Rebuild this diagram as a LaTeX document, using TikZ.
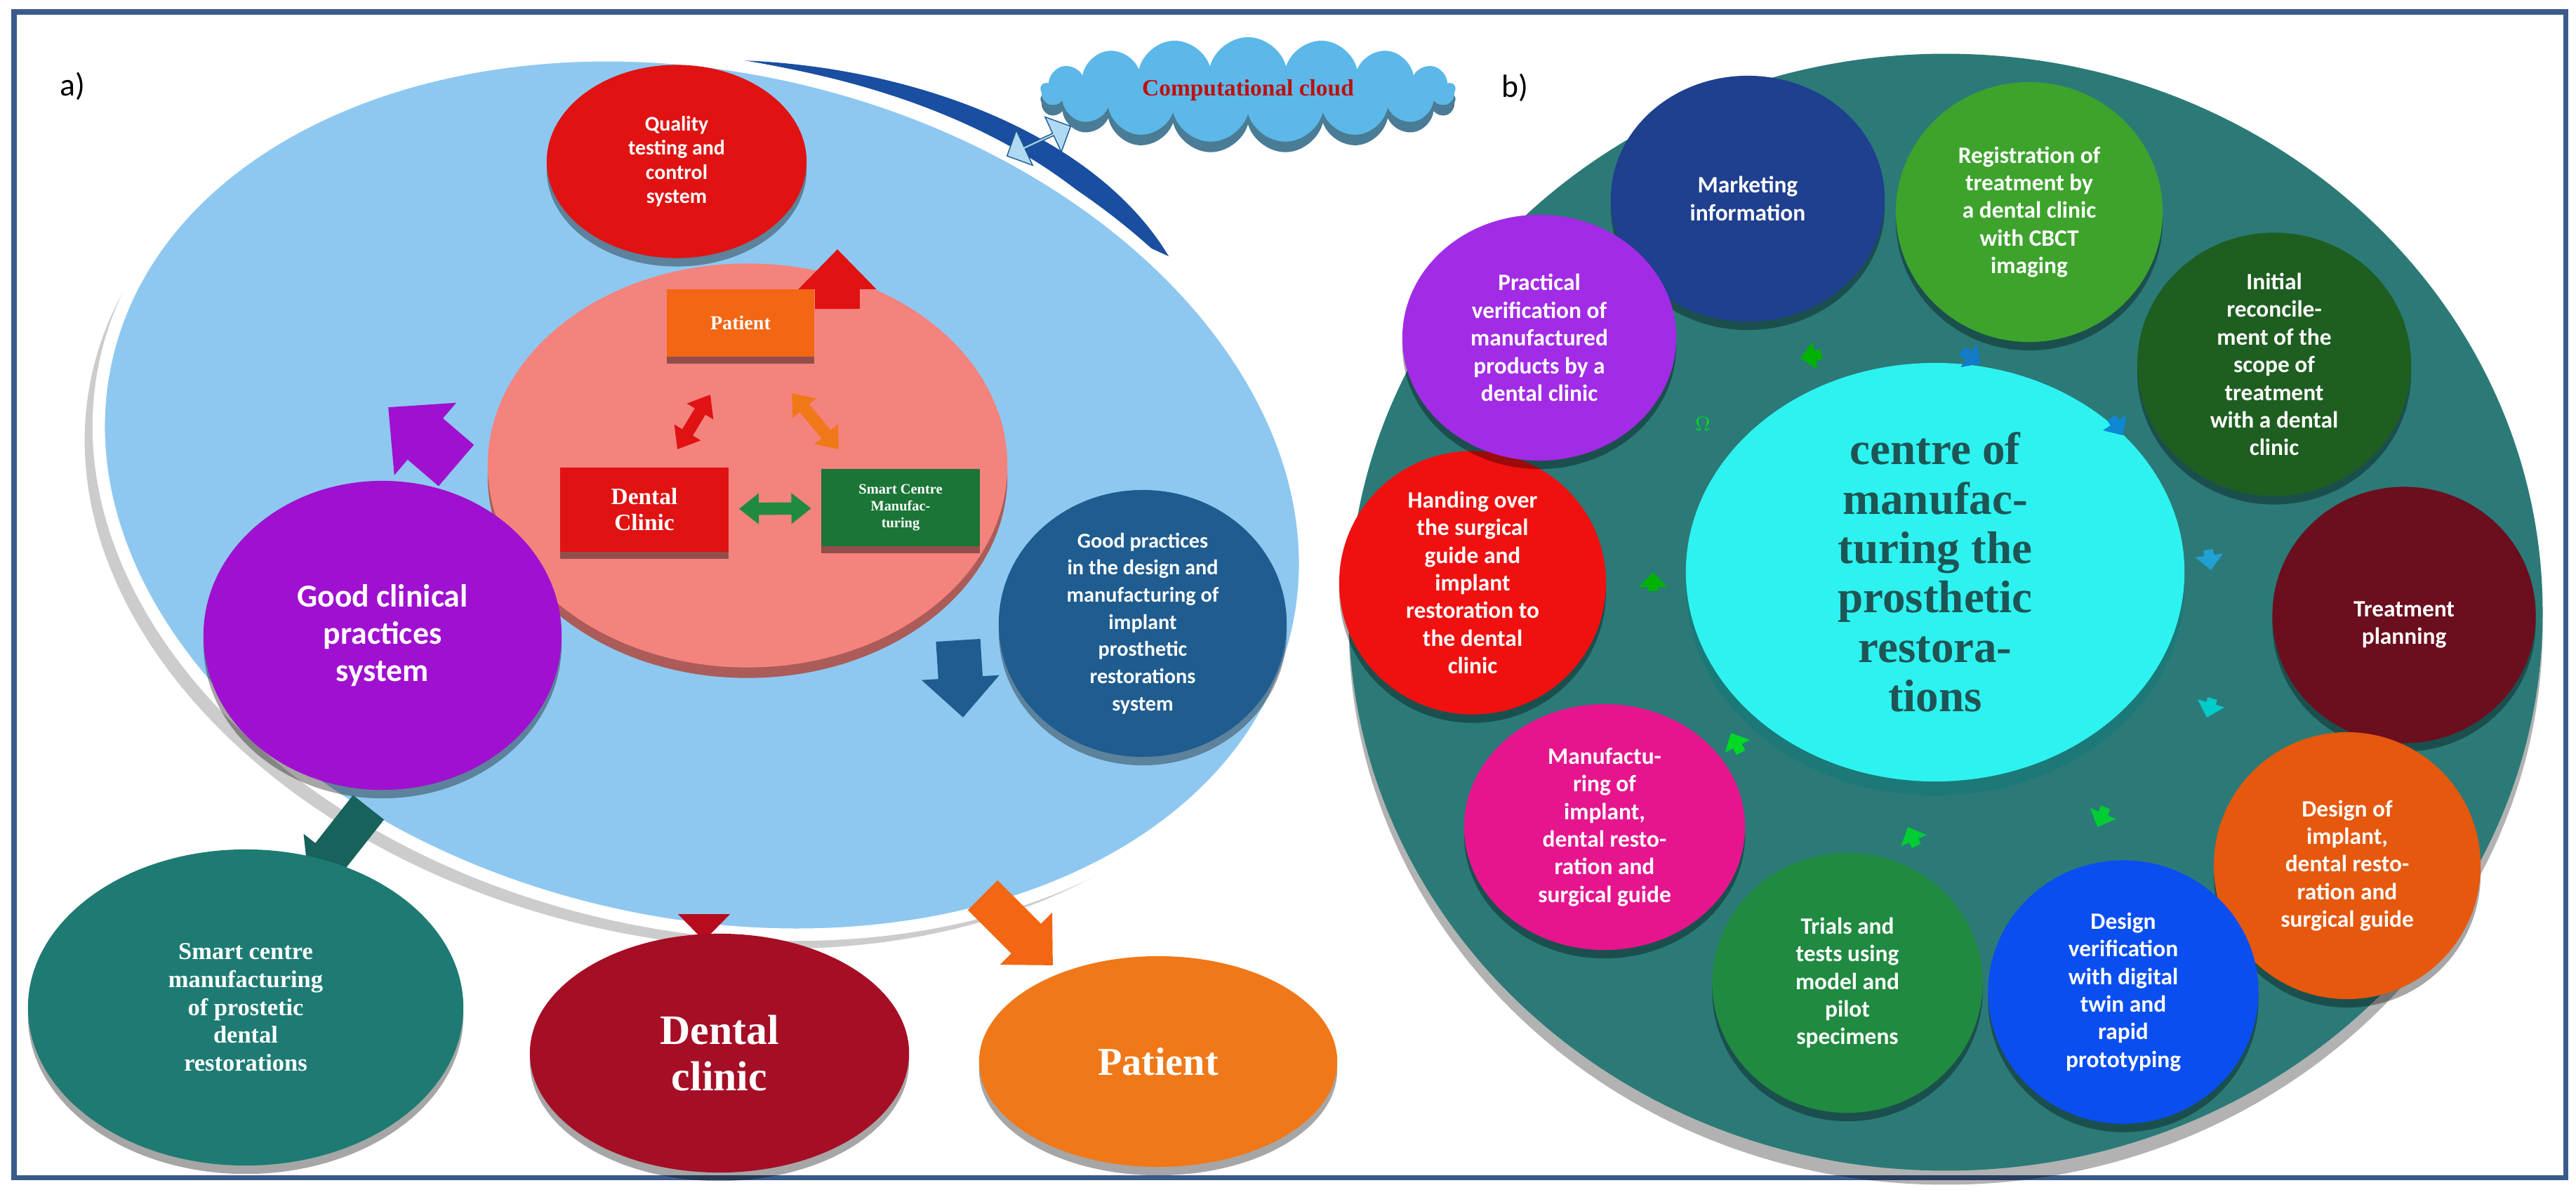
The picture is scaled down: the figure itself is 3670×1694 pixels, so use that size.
\documentclass[tikz,border=0pt]{standalone}
\usepackage{fontspec}
\setmainfont{Carlito}
\newfontfamily\serifb{Liberation Serif}
\usetikzlibrary{shapes.geometric,shapes.symbols,shapes.arrows,arrows.meta,shadows,calc}
\definecolor{lblue}{HTML}{8EC8F0}
\definecolor{pinkc}{HTML}{F4837D}
\definecolor{qred}{HTML}{E01212}
\definecolor{purp}{HTML}{A010D0}
\definecolor{dblue}{HTML}{1F5C8F}
\definecolor{tealA}{HTML}{1E7B73}
\definecolor{dred}{HTML}{A50E25}
\definecolor{orng}{HTML}{F07818}
\definecolor{bigteal}{HTML}{2B7A78}
\definecolor{cyanc}{HTML}{2EF2F0}
\definecolor{mkt}{HTML}{1F3F8F}
\definecolor{reg}{HTML}{3DA32C}
\definecolor{ini}{HTML}{1E5E20}
\definecolor{trt}{HTML}{6B0E1E}
\definecolor{dsg}{HTML}{E5580E}
\definecolor{dver}{HTML}{0A4EF0}
\definecolor{trl}{HTML}{1F8A40}
\definecolor{mfg}{HTML}{E6158E}
\definecolor{hnd}{HTML}{F01010}
\definecolor{prc}{HTML}{A22BE6}
\definecolor{cloudc}{HTML}{5BB8E8}
\definecolor{frame}{HTML}{3A5A8A}
\tikzset{
  disk/.style={ellipse, draw=none, text=white, align=center, inner sep=0pt,
     general shadow={shadow yshift=-1.2mm, fill=black, opacity=0.35}},
  ctxt/.style={font=\fontsize{9.5}{11.2}\selectfont\bfseries},
  box/.style={rectangle, draw=none, text=white, align=center, inner sep=1pt,
     general shadow={shadow yshift=-1mm, fill=black, opacity=0.4}},
  fat/.style={line width=#1, -{Triangle[length=0.9*#1,width=1.7*#1]}},
  dfat/.style={line width=#1, {Triangle[length=1.6*#1,width=2.4*#1]}-{Triangle[length=1.6*#1,width=2.4*#1]}},
  tiny/.style={line width=4pt, -{Triangle[length=6pt,width=11pt]}}
}
\begin{document}
\begin{tikzpicture}[x=0.01cm,y=-0.01cm]
\useasboundingbox (0,0) rectangle (3670,1694);
\fill[white] (0,0) rectangle (3670,1694);
\draw[frame, line width=2pt] (20,17) rectangle (3655,1677);
\node[font=\fontsize{13}{15}\selectfont] (la) at (103,123) {a)};
\node[font=\fontsize{13}{15}\selectfont] (lb) at (2158,125) {b)};

% ---------- panel a ----------
\fill[dblue!85!blue] (1056,86) .. controls (1300,95) and (1560,190) .. (1665,365)
   -- (1610,340) .. controls (1480,200) and (1280,120) .. cycle;
\node[ellipse, fill=lblue, draw=white, line width=5pt, minimum width=17.4cm, minimum height=12.2cm,
  rotate=-13, general shadow={shadow xshift=-2mm, shadow yshift=-2mm, fill=black, opacity=0.2}] (big) at (1000,705) {};
\node[double arrow, fill=lblue!70!white, draw=dblue, minimum height=1cm, minimum width=0.55cm,
  double arrow head extend=0.1cm, rotate=25, inner sep=0pt] (cla) at (1480,201) {};
\node[cloud, cloud puffs=17, aspect=5, fill=cloudc, minimum width=5.9cm, minimum height=1.5cm, inner sep=0pt,
  general shadow={shadow yshift=-1.5mm, fill=cloudc!60!black, opacity=0.9},
  font=\serifb\fontsize{9.5}{11}\selectfont\bfseries, text=qred!85!black] (cloud) at (1778,128) {Computational cloud};

\node[disk, fill=qred, minimum width=3.7cm, minimum height=2.75cm, font=\fontsize{8.5}{9.8}\selectfont\bfseries] (qual) at (964,230)
  {Quality\\testing and\\control\\system};
\node[ellipse, fill=pinkc, minimum width=7.4cm, minimum height=5.75cm,
  general shadow={shadow yshift=-1.5mm, fill=pinkc!70!black}] (pink) at (1065,663) {};
\node[box, fill=orng!85!red, minimum width=2.1cm, minimum height=0.95cm, font=\serifb\fontsize{8}{9}\selectfont\bfseries] (pbox) at (1055,460) {Patient};
\node[box, fill=qred, minimum width=2.4cm, minimum height=1.2cm, font=\serifb\fontsize{9.5}{10.5}\selectfont\bfseries] (dbox) at (918,726) {Dental\\Clinic};
\node[box, fill=trl!85!black, minimum width=2.25cm, minimum height=1.1cm, font=\serifb\fontsize{5.8}{6.8}\selectfont\bfseries] (sbox) at (1283,723) {Smart Centre\\Manufac-\\turing};
\coordinate (t1) at (1012,562); \coordinate (t2) at (965,640);
\draw[dfat=5pt, qred] (t1) -- (t2);
\coordinate (t3) at (1128,560); \coordinate (t4) at (1195,640);
\draw[dfat=5pt, orng] (t3) -- (t4);
\draw[dfat=5pt, trl, shorten <=4pt, shorten >=4pt] (dbox) -- (sbox);

\node[disk, fill=purp, minimum width=5.1cm, minimum height=4.4cm, font=\fontsize{13}{15}\selectfont\bfseries] (gcp) at (545,905)
  {Good clinical\\practices\\system};
\node[disk, fill=dblue, minimum width=4.1cm, minimum height=3.8cm, font=\fontsize{8.6}{11}\selectfont\bfseries] (gpd) at (1628,888)
  {Good practices\\in the design and\\manufacturing of\\implant\\prosthetic\\restorations\\system};

\coordinate (r1) at (1193,440); \coordinate (r2) at (1193,355);
\draw[fat=18pt, qred] (r1) -- (r2);
\coordinate (p1) at (650,663); \coordinate (p2) at (553,580);
\draw[fat=22pt, purp] (p1) -- (p2);
\coordinate (b1) at (1365,912); \coordinate (b2) at (1372,1022);
\draw[fat=18pt, dblue] (b1) -- (b2);
\coordinate (g1) at (525,1150); \coordinate (g2) at (440,1258);
\draw[fat=16pt, tealA!80!black] (g1) -- (g2);
\coordinate (d1) at (1003,1312); \coordinate (d2) at (1003,1340);
\draw[fat=12pt, dred!80!red] (d1) -- (d2);
\coordinate (o1) at (1400,1275); \coordinate (o2) at (1500,1375);
\draw[fat=17pt, orng!85!red] (o1) -- (o2);

\node[disk, fill=tealA, minimum width=6.2cm, minimum height=4.5cm, font=\serifb\fontsize{9.8}{11.3}\selectfont\bfseries] (scm) at (350,1435)
  {Smart centre\\manufacturing\\of prostetic\\dental\\restorations};
\node[disk, fill=dred, minimum width=5.4cm, minimum height=3.4cm, font=\serifb\fontsize{17}{19}\selectfont\bfseries] (dcl) at (1025,1500)
  {Dental\\clinic};
\node[disk, fill=orng, minimum width=5.1cm, minimum height=3.0cm, font=\serifb\fontsize{16}{18}\selectfont\bfseries] (pat) at (1650,1512)
  {Patient};

% ---------- panel b ----------
\node[ellipse, fill=bigteal, minimum width=17cm, minimum height=15.9cm,
  general shadow={shadow yshift=-2mm, fill=black, opacity=0.3}] (outer) at (2772,872) {};
\node[ellipse, fill=cyanc, minimum width=7.1cm, minimum height=5.4cm,
  general shadow={shadow yshift=-2mm, fill=cyanc!50!black, opacity=0.7},
  text=bigteal!70!black, align=center, font=\serifb\fontsize{18.5}{20}\selectfont\bfseries] (ctr) at (2757,815)
  {centre of\\manufac-\\turing the\\prosthetic\\restora-\\tions};
\node[disk, fill=mkt, minimum width=3.9cm, minimum height=3.5cm, ctxt] (mk) at (2490,283) {Marketing\\information};
\node[disk, fill=reg, minimum width=3.8cm, minimum height=3.7cm, ctxt] (rg) at (2891,302) {Registration of\\treatment by\\a dental clinic\\with CBCT\\imaging};
\node[disk, fill=ini, minimum width=3.9cm, minimum height=3.75cm, ctxt] (in) at (3240,519) {Initial\\reconcile-\\ment of the\\scope of\\treatment\\with a dental\\clinic};
\node[disk, fill=trt, minimum width=3.75cm, minimum height=3.65cm, ctxt] (tp) at (3425,876) {\\[3pt]Treatment\\planning};
\node[disk, fill=dsg, minimum width=3.8cm, minimum height=3.8cm, ctxt] (ds) at (3344,1233) {Design of\\implant,\\dental resto-\\ration and\\surgical guide};
\node[disk, fill=dver, minimum width=3.85cm, minimum height=3.75cm, ctxt] (dv) at (3025,1413) {Design\\verification\\with digital\\twin and\\rapid\\prototyping};
\node[disk, fill=trl, minimum width=3.85cm, minimum height=3.7cm, ctxt] (tr) at (2632,1400) {Trials and\\tests using\\model and\\pilot\\specimens};
\node[disk, fill=mfg, minimum width=4cm, minimum height=3.5cm, ctxt] (mf) at (2286,1178) {Manufactu-\\ring of\\implant,\\dental resto-\\ration and\\surgical guide};
\node[disk, fill=hnd, minimum width=3.8cm, minimum height=3.75cm, ctxt] (hd) at (2098,830) {Handing over\\the surgical\\guide and\\implant\\restoration to\\the dental\\clinic};
\node[disk, fill=prc, minimum width=3.9cm, minimum height=3.5cm, ctxt] (pr) at (2193,481) {Practical\\verification of\\manufactured\\products by a\\dental clinic};

% small arrows
\coordinate (s1a) at (2595,505); \coordinate (s1b) at (2565,510);
\draw[tiny, green!70!black] (s1a) -- (s1b);
\coordinate (s2a) at (2795,500); \coordinate (s2b) at (2822,518);
\draw[tiny, cyan!60!blue] (s2a) -- (s2b);
\coordinate (s3a) at (3008,595); \coordinate (s3b) at (3024,620);
\draw[tiny, cyan!70!blue] (s3a) -- (s3b);
\coordinate (s4a) at (3146,783); \coordinate (s4b) at (3150,812);
\draw[tiny, cyan!70!teal] (s4a) -- (s4b);
\coordinate (s5a) at (3152,995); \coordinate (s5b) at (3144,1022);
\draw[tiny, teal!40!cyan] (s5a) -- (s5b);
\coordinate (s6a) at (3000,1150); \coordinate (s6b) at (2988,1178);
\draw[tiny, green!60!teal] (s6a) -- (s6b);
\coordinate (s7a) at (2730,1205); \coordinate (s7b) at (2718,1178);
\draw[tiny, green!60!teal] (s7a) -- (s7b);
\coordinate (s8a) at (2480,1072); \coordinate (s8b) at (2466,1044);
\draw[tiny, green!70!teal] (s8a) -- (s8b);
\coordinate (s9a) at (2355,842); \coordinate (s9b) at (2355,815);
\draw[tiny, green!70!black] (s9a) -- (s9b);
\node[text=green!70!teal, font=\fontsize{8}{9}\selectfont] (om) at (2426,604) {$\Omega$};
\end{tikzpicture}
\end{document}
